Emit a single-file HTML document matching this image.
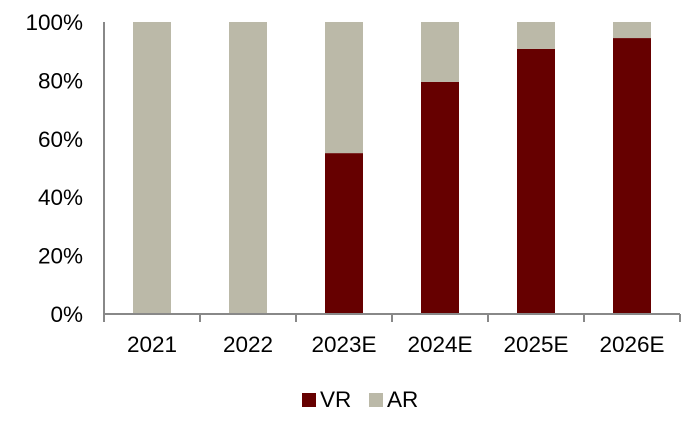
<!DOCTYPE html>
<html><head><meta charset="utf-8"><style>
body{margin:0;background:#fff;}
svg text{font-family:"Liberation Sans",Arial,sans-serif;fill:#000;}
</style></head><body>
<svg id="chart" width="691" height="426"></svg>
<script>
const categories=["2021","2022","2023E","2024E","2025E","2026E"];
const vrValues=[0,0,55.1,79.5,90.8,94.5];
const arValues=[100,100,44.9,20.5,9.2,5.5];
const yTicks=[0,20,40,60,80,100];
const tickLabels=["0%","20%","40%","60%","80%","100%"];
const NS="http://www.w3.org/2000/svg";
const svg=document.getElementById('chart');
const x0=104,x1=680,yBase=314,yTop=22;
const band=(x1-x0)/categories.length, barW=38;
const y=v=>yBase-(v/100)*(yBase-yTop);
const xc=i=>x0+band*(i+0.5);
function mk(t,a){const e=document.createElementNS(NS,t);for(const k in a)e.setAttribute(k,a[k]);svg.appendChild(e);return e;}
yTicks.forEach((t,i)=>{
 const tx=mk('text',{x:83,y:y(t)+8,'text-anchor':'end','font-size':22.5});
 tx.textContent=tickLabels[i];
 
 
});
categories.forEach((c,i)=>{
 const vr=mk('rect',{x:xc(i)-barW/2,y:y(vrValues[i]),width:barW,height:yBase-y(vrValues[i]),fill:'#660000'});
 
 
 const ar=mk('rect',{x:xc(i)-barW/2,y:y(vrValues[i]+arValues[i]),width:barW,height:y(vrValues[i])-y(vrValues[i]+arValues[i]),fill:'#bbb9a8'});
 
 
 const t=mk('text',{x:xc(i),y:352,'text-anchor':'middle','font-size':22.5});
 t.textContent=c;
 
 
});
const ya=mk('line',{x1:x0,y1:yTop,x2:x0,y2:yBase+7,stroke:'#888','stroke-width':2});


const xa=mk('line',{x1:x0,y1:yBase,x2:x1,y2:yBase,stroke:'#888','stroke-width':2});


for(let i=0;i<=categories.length;i++){
 const tk=mk('line',{x1:x0+band*i,y1:yBase,x2:x0+band*i,y2:yBase+8,stroke:'#888','stroke-width':2});
 
 
}
[["VR","#660000",302],["AR","#bbb9a8",369]].forEach(([n,col,lx])=>{
 const s=mk('rect',{x:lx,y:393,width:14,height:14,fill:col});
 
 
 const t=mk('text',{x:lx+18,y:407,'font-size':22.5});
 t.textContent=n;
 
 
});
</script>
</body></html>
